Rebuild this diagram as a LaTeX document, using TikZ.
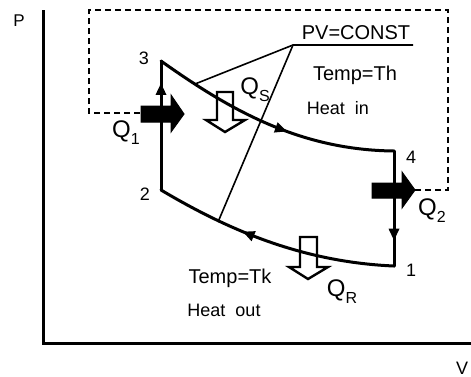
\documentclass[tikz,border=0pt]{standalone}
\usepackage{fontspec}
\setmainfont{Liberation Sans}
\usetikzlibrary{arrows.meta, decorations.markings}

\newcommand{\heatq}[1]{Q\raisebox{-0.55ex}{\fontsize{8}{9}\selectfont #1}}

\begin{document}
\begin{tikzpicture}[
        x=0.5pt, y=-0.5pt,
        >={Triangle[length=6pt, width=5pt]},
        % Define Styles
        axis/.style={line width=1.5pt},
        cycleline/.style={line width=1.5pt, line cap=round},
        thinline/.style={line width=0.8pt},
        boundary/.style={dash pattern=on 3pt off 2pt, line width=0.75pt},
        heatin/.style={fill=black, draw=black, line width=0.5pt},
        heatout/.style={fill=white, draw=black, line width=1.2pt, line join=miter},
        ptlabel/.style={font=\fontsize{9}{10}\selectfont, inner sep=0pt},
        qlabel/.style={font=\fontsize{12}{14}\selectfont, inner sep=0pt},
        midarrow/.style={postaction={decorate}, decoration={markings, mark=at position #1 with {\arrow{>}}}}
    ]
    \useasboundingbox (0,0) rectangle (471,376);

    % --- AXES ---
    \coordinate (origin) at (43,343);
    \coordinate (ptop) at (43,10);
    \coordinate (vend) at (471,343);
    \draw[axis] (ptop) -- (origin) -- (vend);
    \node[font=\fontsize{8.5}{10}\selectfont, inner sep=0pt] (plab) at (19,21) {P};
    \node[font=\fontsize{9}{10}\selectfont, inner sep=0pt] (vlab) at (462,368) {V};

    % --- SYSTEM BOUNDARY (dashed) ---
    \draw[boundary] (140,113) -- (89,113) -- (89,10) -- (448,10) -- (448,190) -- (415,190);

    % --- STATE POINTS ---
    \coordinate (s1) at (394,266);
    \coordinate (s2) at (161,190);
    \coordinate (s3) at (161,61);
    \coordinate (s4) at (394,151);
    \node[ptlabel] (n1) at (411,270) {1};
    \node[ptlabel] (n2) at (145,194) {2};
    \node[ptlabel] (n3) at (144,58) {3};
    \node[ptlabel] (n4) at (411,157) {4};

    % --- HEAT ARROWS (hollow, below the cycle) ---
    \draw[heatout] (217,92) -- (233,92) -- (233,120) -- (245,120) -- (225,132) -- (206,120) -- (217,120) -- cycle;
    \draw[heatout] (300,237) -- (317,237) -- (317,267) -- (328,267) -- (308,279) -- (289,267) -- (300,267) -- cycle;

    % --- CYCLE ---
    \draw[cycleline, midarrow=0.83] (s2) -- (s3);
    \draw[cycleline, midarrow=0.57] (s3) .. controls (230,110) and (300,150) .. (s4);
    \draw[cycleline, midarrow=0.78] (s4) -- (s1);
    \draw[cycleline, midarrow=0.63] (s1) .. controls (300,262) and (225,228) .. (s2);

    % --- ISOTHERM LEADER ---
    \coordinate (pv) at (293,45);
    \coordinate (pvend) at (413,45);
    \coordinate (isoup) at (195,84);
    \coordinate (isolow) at (218,222);
    \draw[thinline] (isoup) -- (pv) -- (pvend);
    \draw[thinline] (pv) -- (isolow);
    \node[font=\fontsize{10}{12}\selectfont, inner sep=0pt] (pvtext) at (356,33) {PV=CONST};

    % --- HEAT ARROWS (solid) ---
    \fill[heatin] (141,106) -- (171,106) -- (171,95) -- (184,114) -- (171,132) -- (171,122) -- (141,122) -- cycle;
    \fill[heatin] (372,183) -- (402,183) -- (402,172) -- (415,190) -- (402,208) -- (402,198) -- (372,198) -- cycle;

    % --- LABELS ---
    \node[qlabel] (q1) at (126,133) {\heatq{1}};
    \node[qlabel] (qs) at (255,90) {\heatq{S}};
    \node[qlabel] (q2) at (432,211) {\heatq{2}};
    \node[qlabel] (qr) at (342,292) {\heatq{R}};

    \node[font=\fontsize{10}{12}\selectfont, inner sep=0pt] (thot) at (355,75) {Temp=Th};
    \node[font=\fontsize{9}{11}\selectfont, inner sep=0pt] (hin) at (338,108) {Heat\ \ in};
    \node[font=\fontsize{10}{12}\selectfont, inner sep=0pt] (tcold) at (230,278) {Temp=Tk};
    \node[font=\fontsize{9}{11}\selectfont, inner sep=0pt] (hout) at (224,310) {Heat\ \ out};

\end{tikzpicture}
\end{document}
